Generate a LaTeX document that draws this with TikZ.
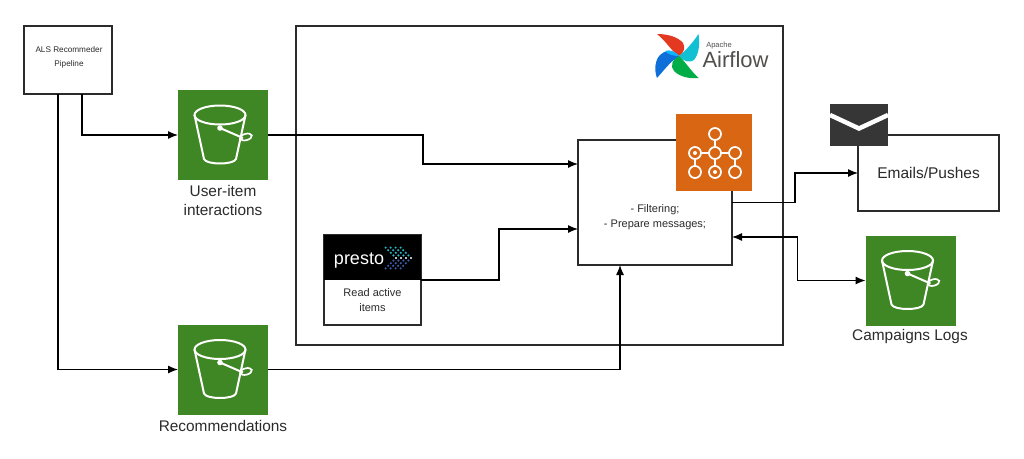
\documentclass[tikz,border=0pt]{standalone}
\usepackage{fontspec}
\setmainfont{Liberation Sans}
\usetikzlibrary{calc,arrows.meta}
\definecolor{awsgreen}{HTML}{3F8624}
\definecolor{awsorange}{HTML}{D86613}
\definecolor{inkgray}{HTML}{2B2B2B}
\definecolor{logogray}{HTML}{51504F}
\definecolor{windred}{HTML}{E43921}
\definecolor{windteal}{HTML}{11C1D3}
\definecolor{windgreen}{HTML}{00AD46}
\definecolor{windblue}{HTML}{0CB6FF}
\definecolor{winddeep}{HTML}{0F6FD8}
\definecolor{dotteal}{HTML}{23B7C4}
\definecolor{dotblue}{HTML}{3A5FB0}

\tikzset{
  bucket/.pic={
    \draw[white,line width=2pt] (-3,-20) ellipse [x radius=25.5,y radius=9.5];
    \draw[white,line width=2pt,line join=round] (-28.5,-20) -- (-19,24) .. controls (-17,30) and (11,30) .. (13,24) -- (22.5,-20);
    \draw[white,line width=2pt] (-3,-7) -- (20,3);
    \fill[white] (-3,-7) circle (2.8);
    \draw[white,line width=1.7pt,rotate around={15:(23,2)}] (23,2) ellipse [x radius=6,y radius=3.2];
  }
}

\begin{document}
\begin{tikzpicture}[x=1pt,y=-1pt,
    box/.style ={draw=inkgray, line width=1.3pt, fill=white, outer sep=0pt, inner sep=0pt, align=center},
    square/.style ={fill=awsgreen, minimum width=90pt, minimum height=90pt, inner sep=0pt, outer sep=0pt},
    caption/.style ={font=\fontsize{15.4}{19}\selectfont, text=inkgray, align=center},
    small/.style ={font=\fontsize{11}{15}\selectfont, text=inkgray, align=center},
    link/.style ={draw=black, line width=1.2pt, -{Latex[length=10pt,width=8pt]}},
    dagline/.style ={white, line width=1.7pt}]
   \useasboundingbox (0,0) rectangle (1024,458);
   % frame and boxes
   \node[box, minimum width=487pt, minimum height=319pt] (frame) at (539.5,185.5) {};
   \node[box, font=\fontsize{8.2}{14}\selectfont, text=inkgray, minimum width=88pt, minimum height=68pt] (pipeline) at (68,60) {};
   \node[font=\fontsize{8.2}{14}\selectfont, text=inkgray, align=center] (pipelineText) at (69,57.5) {ALS Recommeder\\Pipeline};
   \node[box, minimum width=154pt, minimum height=125pt] (main) at (655,202.5) {};
   \node[small] (mainText) at (655,217) {- Filtering;\\- Prepare messages;};
   \node[box, font=\fontsize{15.5}{18}\selectfont, text=inkgray, minimum width=141pt, minimum height=76pt] (emails) at (928.5,173) {Emails/Pushes};
   \node[box, minimum width=97pt, minimum height=90pt] (presto) at (372.5,280) {};
   \node[small] (prestoLabel) at (372.5,300) {Read active\\items};
   % buckets
   \node[square] (bucketA) at (223,135) {};
   \node[square] (bucketB) at (223,369.5) {};
   \node[square] (bucketC) at (910.5,280.5) {};
   \pic at (bucketA) {bucket};
   \pic at (bucketB) {bucket};
   \pic at (bucketC) {bucket};
   \node[caption] (labelA) at (223,200) {User-item\\interactions};
   \node[caption] (labelB) at (223,426) {Recommendations};
   \node[caption] (labelC) at (910,337) {Campaigns Logs};
   % presto header
   \node[fill=black, minimum width=97pt, minimum height=45pt, inner sep=0pt, outer sep=0pt] (prestoHead) at (372.5,257.5) {};
   \node[text=white, font=\fontsize{18}{18}\selectfont, inner sep=0pt] (prestoText) at (359,261) {presto};
   \foreach \band in {0,1,2,3}
     \foreach \k in {1,2,3,4} {
       \fill[dotteal] ({411-\band*5-\k*2.6},{258-\k*2.6}) circle (1.2pt);
       \fill[dotblue] ({411-\band*5-\k*2.6},{258+\k*2.6}) circle (1.2pt);
     }
   \foreach \band in {0,1,2,3}
     \fill[white] ({411-\band*5},258) circle (1.2pt);
   % links
   \coordinate (turnA) at (423,150);
   \coordinate (turnB) at (499,255);
   \coordinate (turnC) at (795,190);
   \draw[link] ([xshift=14pt]pipeline.south) |- (bucketA.west);
   \draw[link] ([xshift=-10pt]pipeline.south) |- (bucketB.west);
   \draw[link] (bucketA.east) -| (turnA) |- ([yshift=38.5pt]main.west);
   \draw[link] (bucketB.east) -| ([xshift=-35pt]main.south);
   \draw[link] (presto.east) -| (turnB) |- ([yshift=-26.5pt]main.west);
   \draw[link] (main.east) -| (turnC) |- (emails.west);
   \draw[link, {Latex[length=10pt,width=8pt]}-{Latex[length=10pt,width=8pt]}] ([yshift=-34.5pt]main.east) -| ([xshift=-68pt]bucketC.west) |- (bucketC.west);
   % airflow logo
   \fill[windred] (679,56) .. controls (672,52) and (667,42) .. (657,34) .. controls (668,34) and (678,37) .. (683,43) .. controls (685,47) and (685,52) .. (679,56) -- cycle;
   \fill[windteal] (679,56) .. controls (684,52) and (692,44) .. (698.5,34) .. controls (700,44) and (699,54) .. (694,60) .. controls (690,63) and (684,62) .. (679,56) -- cycle;
   \fill[windgreen] (679,56) .. controls (684,60) and (690,70) .. (698.5,78) .. controls (690,79) and (680,77) .. (674,71) .. controls (670,67) and (672,58) .. (679,56) -- cycle;
   \fill[winddeep] (679,56) .. controls (672,60) and (664,70) .. (657,78) .. controls (654,70) and (655,60) .. (660,55) .. controls (664,50) and (674,50) .. (679,56) -- cycle;
   \fill[windblue] (679,56) .. controls (676,52) and (670,49) .. (665,51) .. controls (668,54) and (672,56) .. (679,56) -- cycle;
   \node[text=logogray, font=\fontsize{7.5}{8}\selectfont, inner sep=0pt] (apache) at (719,45.5) {Apache};
   \node[text=logogray, font=\fontsize{22}{22}\selectfont, inner sep=0pt] (airflow) at (735.5,59.5) {Airflow};
   % orange icon
   \node[fill=awsorange, minimum width=76pt, minimum height=77pt, inner sep=0pt, outer sep=0pt] (dag) at (714,152.5) {};
   \draw[dagline] (715,134) -- (715,172);
   \draw[dagline] (695,153) -- (735,153);
   \draw[dagline] (695,153) -- (695,172);
   \draw[dagline] (735,153) -- (735,172);
   \foreach \px/\py in {715/134,695/153,715/153,735/153,695/172,715/172,735/172}
     \draw[dagline, fill=awsorange] (\px,\py) circle (6);
   \foreach \px/\py in {695/153,715/172}
     \fill[white] (\px,\py) circle (2);
   % envelope
   \node[fill=inkgray!95!white, minimum width=58pt, minimum height=42pt, inner sep=0pt, outer sep=0pt] (envelope) at (859,125) {};
   \draw[white, line width=4.5pt] (envelope.west |- 0,115) -- (859,128.5) -- (envelope.east |- 0,115);
 \end{tikzpicture}
\end{document}
